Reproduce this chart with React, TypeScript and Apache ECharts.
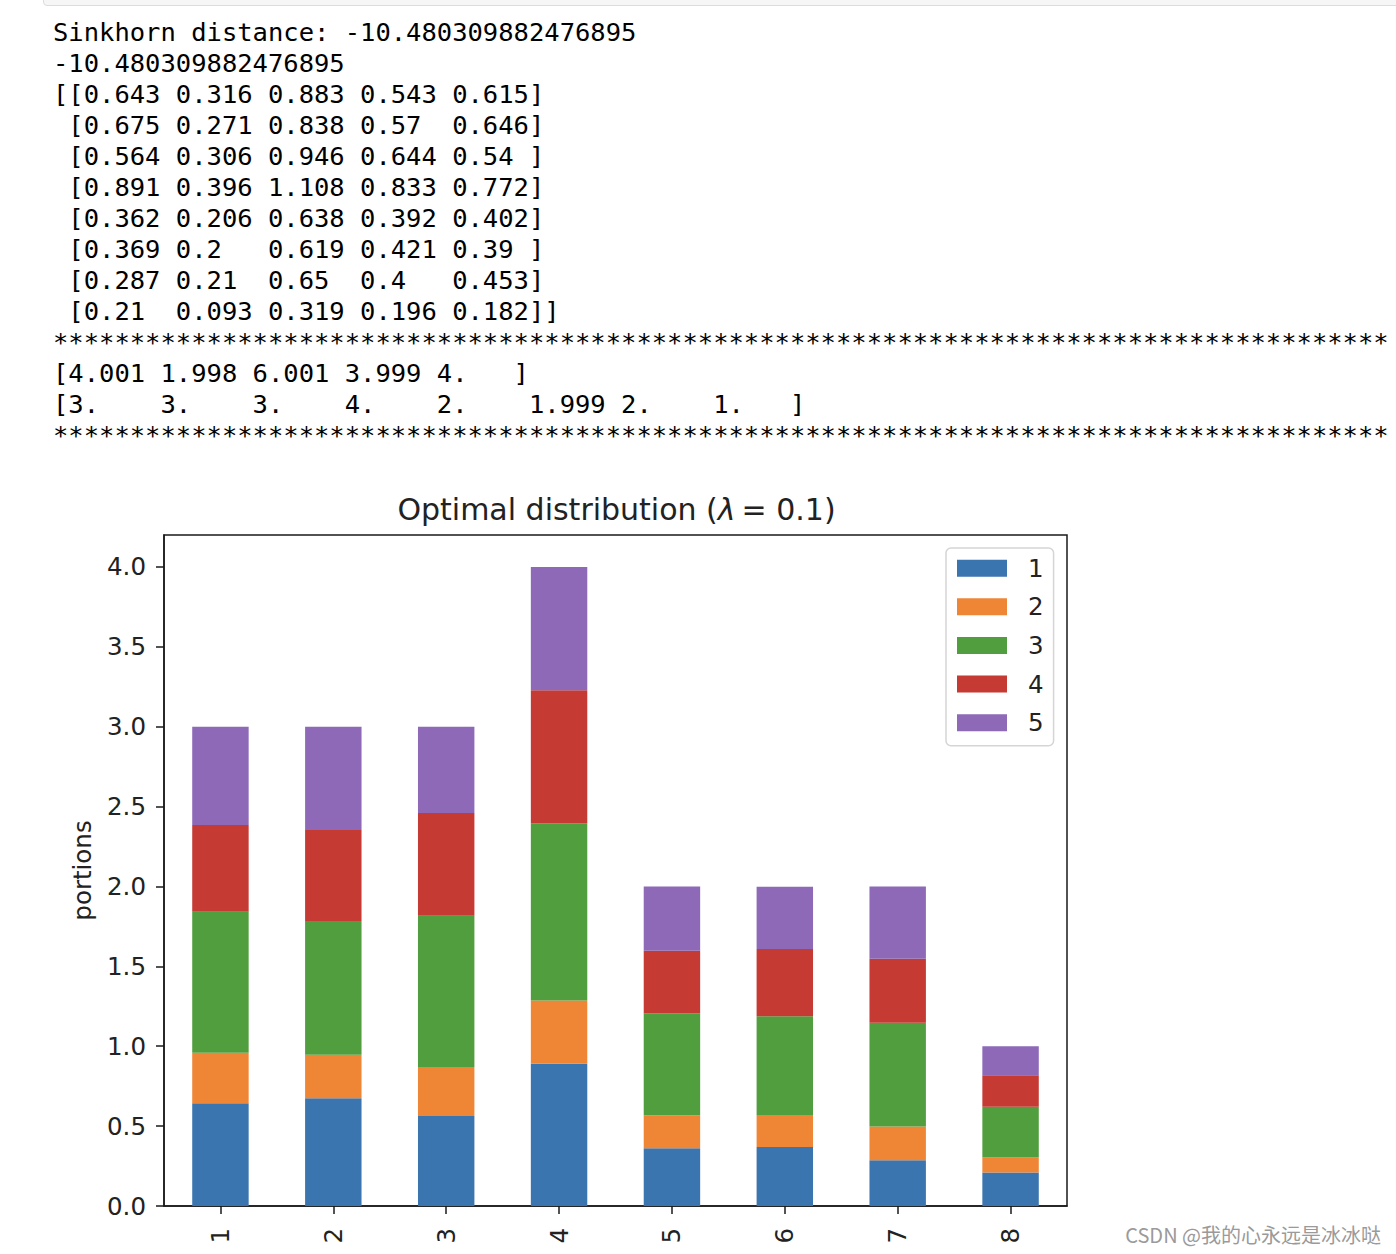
import React, { useEffect, useRef } from "react";
import * as echarts from "echarts";

const categories = ["1", "2", "3", "4", "5", "6", "7", "8"];
const seriesNames = ["1", "2", "3", "4", "5"];
const s1 = [0.643, 0.675, 0.564, 0.891, 0.362, 0.369, 0.287, 0.21];
const s2 = [0.316, 0.271, 0.306, 0.396, 0.206, 0.2, 0.21, 0.093];
const s3 = [0.883, 0.838, 0.946, 1.108, 0.638, 0.619, 0.65, 0.319];
const s4 = [0.543, 0.57, 0.644, 0.833, 0.392, 0.421, 0.4, 0.196];
const s5 = [0.615, 0.646, 0.54, 0.772, 0.402, 0.39, 0.453, 0.182];
const seriesValues = [s1, s2, s3, s4, s5];
const colors = ["#3b75af", "#ef8636", "#519e3e", "#c53a32", "#8d69b8"];
const yTicks = [0, 0.5, 1, 1.5, 2, 2.5, 3, 3.5, 4];
const distance = "-10.480309882476895";
const watermark = "CSDN @我的心永远是冰冰哒";

function fmt(v: number): string {
  const s = v.toFixed(3).replace(/0+$/, "");
  return s.padEnd(5, " ");
}

function buildLines(): string[] {
  const lines: string[] = [];
  lines.push(`Sinkhorn distance: ${distance}`);
  lines.push(distance);
  const n = categories.length;
  for (let i = 0; i < n; i++) {
    const row = seriesValues.map((s) => s[i]);
    lines.push((i === 0 ? "[[" : " [") + row.map(fmt).join(" ") + "]" + (i === n - 1 ? "]" : ""));
  }
  const stars = "*".repeat(87);
  lines.push(stars);
  const colSums = seriesValues.map((s) => s.reduce((a, b) => a + b, 0));
  lines.push("[" + colSums.map(fmt).join(" ") + "]");
  const rowSums = categories.map((_, i) => seriesValues.reduce((a, s) => a + s[i], 0));
  lines.push("[" + rowSums.map(fmt).join(" ") + "]");
  lines.push(stars);
  return lines;
}

export default function App() {
  const ref = useRef<HTMLDivElement>(null);

  useEffect(() => {
    if (!ref.current) return;
    const chart = echarts.init(ref.current, undefined, { renderer: "svg" });
    const axisColor = "#1a1a1a";
    const textColor = "#222";
    const fs = 24.5;
    chart.setOption({
      animation: false,
      backgroundColor: "transparent",
      textStyle: { fontFamily: "DejaVu Sans" },
      grid: {
        left: 164,
        top: 535,
        width: 903,
        height: 671,
        show: true,
        borderColor: axisColor,
        borderWidth: 1.5,
        backgroundColor: "transparent",
      },
      xAxis: {
        type: "category",
        data: categories,
        axisLine: { show: true, lineStyle: { color: axisColor, width: 1.5 } },
        axisTick: { show: true, alignWithLabel: true, length: 8, lineStyle: { color: axisColor, width: 1.5 } },
        axisLabel: { rotate: 90, fontSize: fs, color: textColor, margin: 22, fontFamily: "DejaVu Sans" },
        splitLine: { show: false },
      },
      yAxis: {
        type: "value",
        min: 0,
        max: 4.2,
        interval: 0.5,
        name: "portions",
        nameLocation: "middle",
        nameGap: 69,
        nameTextStyle: { fontSize: fs, color: textColor, fontFamily: "DejaVu Sans" },
        axisLine: { show: true, lineStyle: { color: axisColor, width: 1.5 } },
        axisTick: { show: true, length: 8, customValues: yTicks, lineStyle: { color: axisColor, width: 1.5 } },
        axisLabel: {
          customValues: yTicks,
          formatter: (v: number) => v.toFixed(1),
          fontSize: fs,
          color: textColor,
          margin: 18,
          fontFamily: "DejaVu Sans",
        },
        splitLine: { show: false },
      },
      legend: {
        orient: "vertical",
        left: 946,
        top: 548,
        itemWidth: 50,
        itemHeight: 17,
        itemGap: 13.6,
        icon: "rect",
        padding: [7.75, 10, 10.5, 11],
        backgroundColor: "rgba(255,255,255,0.8)",
        borderColor: "#d5d5d5",
        borderWidth: 1.5,
        borderRadius: 5,
        textStyle: { fontSize: fs, color: textColor, padding: [0, 0, 0, 16], fontFamily: "DejaVu Sans" },
        data: seriesNames,
      },
      graphic: [
        {
          type: "text",
          x: 616.5,
          y: 509,
          style: {
            text: "Optimal distribution ({i|λ}\u2009= 0.1)",
            fontSize: 30,
            fontFamily: "DejaVu Sans",
            fill: textColor,
            align: "center",
            verticalAlign: "middle",
            rich: { i: { fontStyle: "italic", fontSize: 30, fontFamily: "DejaVu Sans", fill: textColor } },
          },
        },
        {
          type: "text",
          x: 1381,
          y: 1234,
          style: {
            text: watermark,
            fontSize: 20,
            fontFamily: "Noto Sans CJK SC",
            fill: "#9a9a9a",
            align: "right",
            verticalAlign: "middle",
          },
        },
      ],
      series: seriesValues.map((d, i) => ({
        type: "bar",
        name: seriesNames[i],
        stack: "total",
        data: d,
        barWidth: "50%",
        itemStyle: { color: colors[i] },
        emphasis: { disabled: true },
      })),
    });
    return () => chart.dispose();
  }, []);

  const lines = buildLines();

  return (
    <div
      style={{
        position: "absolute",
        left: 0,
        top: 0,
        width: 1396,
        height: 1254,
        overflow: "hidden",
        background: "#fff",
      }}
    >
      <div
        style={{
          position: "absolute",
          left: 43,
          top: -12,
          width: 1400,
          height: 16,
          border: "1px solid #dcdcdc",
          borderRadius: 4,
          background: "#f6f6f6",
        }}
      />
      <div ref={ref} style={{ position: "absolute", left: 0, top: 0, width: 1396, height: 1254 }} />
      <pre
        style={{
          position: "absolute",
          left: 53,
          top: 17,
          margin: 0,
          fontFamily: "'DejaVu Sans Mono', monospace",
          fontSize: "25.5px",
          lineHeight: "31px",
          color: "#000",
          whiteSpace: "pre",
          zIndex: 2,
        }}
      >
        {lines.join("\n")}
      </pre>
    </div>
  );
}
